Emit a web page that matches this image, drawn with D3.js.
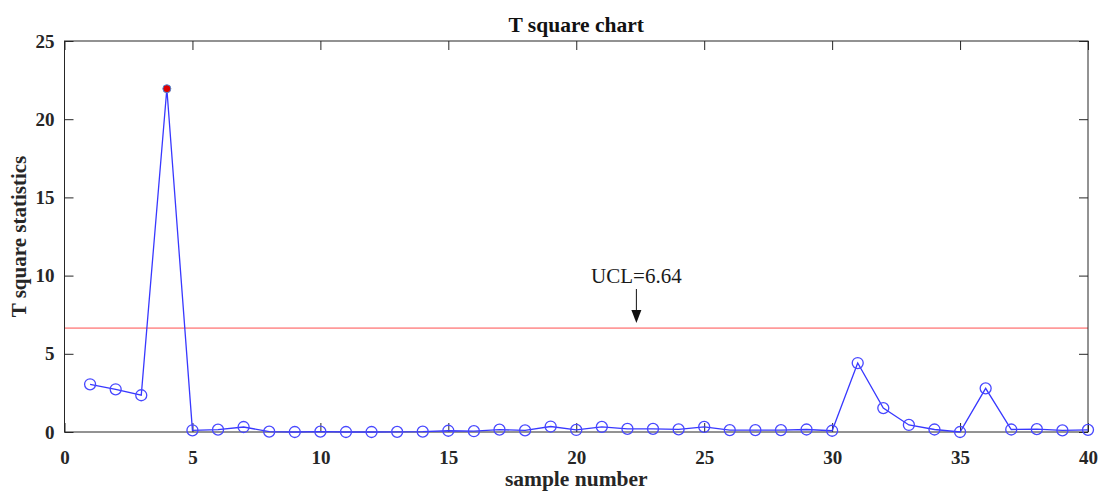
<!DOCTYPE html>
<html>
<head>
<meta charset="utf-8">
<script src="https://cdn.jsdelivr.net/npm/d3@7"></script>
<style>
  body { margin: 0; background: #fff; }
  text { font-family: "Liberation Serif", "Times New Roman", serif; }
</style>
</head>
<body>
<div id="chart"></div>
<script>
const width = 1103;
const height = 492;

// data
const samples = d3.range(1, 41);
const tsq = [3.05, 2.73, 2.35, 21.95, 0.11, 0.15, 0.32, 0.02, 0.0, 0.02,
             0.0, 0.0, 0.01, 0.02, 0.08, 0.05, 0.15, 0.1, 0.35, 0.13,
             0.33, 0.2, 0.2, 0.17, 0.33, 0.12, 0.12, 0.12, 0.16, 0.08,
             4.41, 1.53, 0.45, 0.16, 0.0, 2.79, 0.16, 0.18, 0.1, 0.14];
const ucl = 6.64;
const xTicks = [0, 5, 10, 15, 20, 25, 30, 35, 40];
const yTicks = [0, 5, 10, 15, 20, 25];
const outIdx = [4];

const margin = { top: 41, right: 15, bottom: 60, left: 64.5 };

const svg = d3.select("#chart").append("svg")
  .attr("width", width)
  .attr("height", height)

const x = d3.scaleLinear().domain([0, 40]).range([margin.left, width - margin.right]);
const y = d3.scaleLinear().domain([0, 25]).range([height - margin.bottom, margin.top]);

const axisColor = "#262626";

// UCL line
svg.append("line")
  .attr("x1", x(0)).attr("x2", x(40))
  .attr("y1", y(ucl)).attr("y2", y(ucl))
  .attr("stroke", "#ff9a9a")
  .attr("stroke-width", 1.6)

// box
svg.append("rect")
  .attr("x", x(0)).attr("y", y(25))
  .attr("width", x(40) - x(0)).attr("height", y(0) - y(25))
  .attr("fill", "none")
  .attr("stroke", axisColor)
  .attr("stroke-width", 1)

// axes with inward ticks
svg.append("g")
  .attr("transform", `translate(0,${y(0)})`)
  .call(d3.axisBottom(x).tickValues(xTicks).tickSize(-9).tickPadding(19))
svg.append("g")
  .attr("transform", `translate(0,${y(25)})`)
  .call(d3.axisTop(x).tickValues(xTicks).tickSize(-9).tickFormat(""))
svg.append("g")
  .attr("transform", `translate(${x(0)},0)`)
  .call(d3.axisLeft(y).tickValues(yTicks).tickSize(-9).tickPadding(10))
svg.append("g")
  .attr("transform", `translate(${x(40)},0)`)
  .call(d3.axisRight(y).tickValues(yTicks).tickSize(-9).tickFormat(""))

svg.selectAll(".domain").remove();
svg.selectAll(".tick line").attr("stroke", axisColor);
svg.selectAll(".tick text")
  .attr("fill", axisColor)
  .style("font-family", "'Liberation Serif', serif")
  .style("font-size", "19px")
  .style("font-weight", "bold")

// series line
const line = d3.line()
  .x((d, i) => x(samples[i]))
  .y(d => y(d))

svg.append("path")
  .datum(tsq)
  .attr("d", line)
  .attr("fill", "none")
  .attr("stroke", "#3838ff")
  .attr("stroke-width", 1.3)

svg.selectAll(".pt")
  .data(tsq.map((v, i) => ({ s: samples[i], v: v })).filter(d => !outIdx.includes(d.s)))
  .enter().append("circle")
  .attr("class", "pt")
  .attr("cx", d => x(d.s))
  .attr("cy", d => y(d.v))
  .attr("r", 5.5)
  .attr("fill", "none")
  .attr("stroke", "#4848ff")
  .attr("stroke-width", 1.3)

// out of control point
svg.selectAll(".out")
  .data(outIdx)
  .enter().append("circle")
  .attr("cx", d => x(d))
  .attr("cy", d => y(tsq[d - 1]))
  .attr("r", 4)
  .attr("fill", "#e00000")
  .attr("stroke", "#4a8ad8")
  .attr("stroke-width", 1)

// UCL annotation
const ax = x(22.35);
svg.append("text")
  .attr("x", ax)
  .attr("y", 283)
  .attr("text-anchor", "middle")
  .style("font-size", "21px")
  .attr("fill", "#1a1a1a")
  .text("UCL=" + ucl.toFixed(2))

svg.append("line")
  .attr("x1", ax).attr("x2", ax)
  .attr("y1", 289).attr("y2", 312)
  .attr("stroke", "#111")
  .attr("stroke-width", 1)
svg.append("path")
  .attr("d", `M${ax - 5},${310} L${ax + 5},${310} L${ax},${323} Z`)
  .attr("fill", "#111")

// titles
svg.append("text")
  .attr("x", (x(0) + x(40)) / 2)
  .attr("y", 32)
  .attr("text-anchor", "middle")
  .style("font-size", "21.5px")
  .style("font-weight", "bold")
  .attr("fill", "#111")
  .text("T square chart")

svg.append("text")
  .attr("x", (x(0) + x(40)) / 2)
  .attr("y", 486)
  .attr("text-anchor", "middle")
  .style("font-size", "21.5px")
  .style("font-weight", "bold")
  .attr("fill", "#262626")
  .text("sample number")

svg.append("text")
  .attr("transform", `translate(26,${(y(0) + y(25)) / 2}) rotate(-90)`)
  .attr("text-anchor", "middle")
  .style("font-size", "21px")
  .style("font-weight", "bold")
  .attr("fill", "#262626")
  .text("T square statistics")
</script>
</body>
</html>
